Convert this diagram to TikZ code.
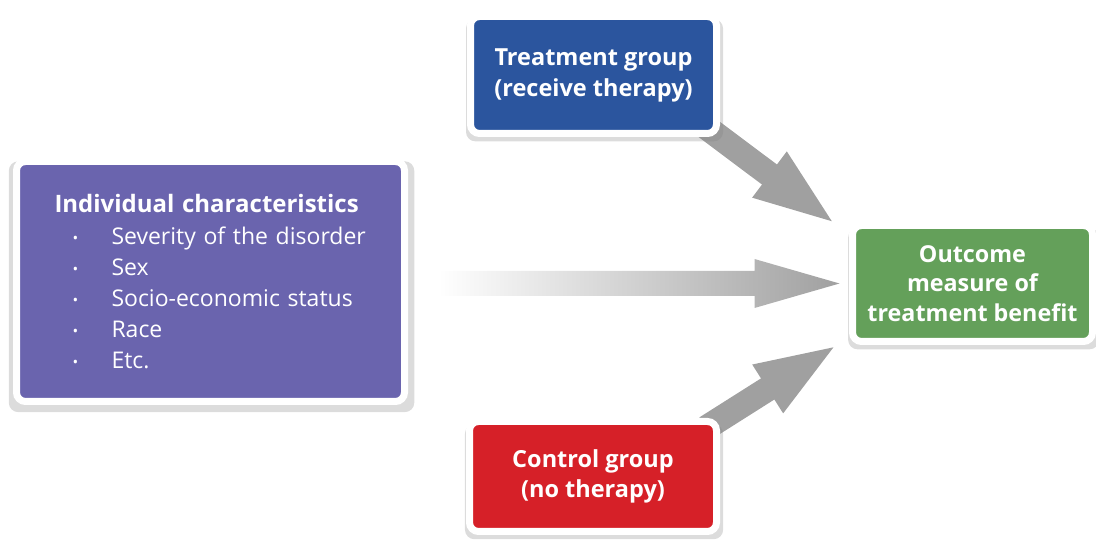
\documentclass[tikz,border=0pt]{standalone}
\usepackage{fontspec}
\setmainfont{Open Sans}
\usetikzlibrary{calc,arrows.meta,positioning,shadows,backgrounds}
\definecolor{indpurple}{RGB}{106,100,174}
\definecolor{treatblue}{RGB}{43,85,158}
\definecolor{outgreen}{RGB}{100,160,90}
\definecolor{ctrlred}{RGB}{214,32,40}
\definecolor{arrowgray}{RGB}{160,160,160}
\newcommand{\bulitem}[1]{\hspace*{18pt}\makebox[39pt][l]{\raisebox{1pt}{\fontsize{15}{15}\selectfont\textbullet}}#1}

\begin{document}
\begin{tikzpicture}[x=1pt, y=1pt,
    every node/.style={font=\fontsize{23}{31}\selectfont, text=white},
    groupbox/.style={draw=white, line width=7pt, rounded corners=9pt, align=center,
      drop shadow={shadow xshift=1pt, shadow yshift=-5pt, shadow scale=1.045, opacity=0.28}},
    bigarrow/.style={draw=arrowgray, line width=25pt, -{Triangle[width=50pt,length=85pt]}}]
  \useasboundingbox (0,0) rectangle (1096,540);
  % boxes
  \node[groupbox, fill=indpurple, text width=312pt, inner xsep=38pt, inner ysep=0pt,
    minimum height=240pt, align=left] (ind) at (210.5,258.5)
    {{\bfseries\fontsize{24}{31}\selectfont Individual characteristics}\\[1pt]
     \bulitem{Severity of the disorder}\\
     \bulitem{Sex}\\
     \bulitem{Socio-economic status}\\
     \bulitem{Race}\\
     \bulitem{Etc.}};
  \node[groupbox, fill=treatblue, minimum width=246pt, minimum height=117pt,
    font=\bfseries\fontsize{23.5}{31}\selectfont] (treat) at (593.5,465)
    {Treatment group\\(receive therapy)};
  \node[groupbox, fill=outgreen, minimum width=240pt, minimum height=116pt,
    font=\bfseries\fontsize{23.3}{29.5}\selectfont] (outcome) at (972.5,256.5)
    {Outcome\\measure of\\treatment benefit};
  \node[groupbox, fill=ctrlred, minimum width=247pt, minimum height=110pt,
    font=\bfseries\fontsize{23.5}{30}\selectfont] (ctrl) at (593,63.5)
    {Control group\\(no therapy)};
  % arrows behind the boxes
  \begin{scope}[on background layer]
    \coordinate (midtip) at ($(outcome.west)+(-9.5,0)$);
    \coordinate (midtail) at ($(ind.east |- midtip)+(30,0)$);
    \shade[left color=white, middle color=arrowgray!70, right color=arrowgray]
      ($(midtail)+(0,12.5)$) -- ($(midtip)+(-85,12.5)$) -- ($(midtip)+(-85,24.5)$)
      -- (midtip) -- ($(midtip)+(-85,-24.5)$) -- ($(midtip)+(-85,-12.5)$)
      -- ($(midtail)+(0,-12.5)$) -- cycle;
    \draw[bigarrow] ($(treat.south east)+(-14,10)$) -- ($(outcome.north west)+(-11.5,-3.5)$);
    \draw[bigarrow] ($(ctrl.north east)+(-14,-10)$) -- ($(outcome.south west)+(-9.5,1.5)$);
  \end{scope}
\end{tikzpicture}
\end{document}
